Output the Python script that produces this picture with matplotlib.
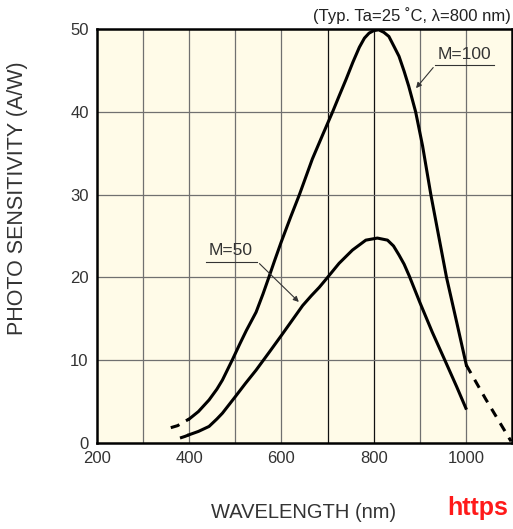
import matplotlib
matplotlib.use("Agg")
import matplotlib.pyplot as plt

plt.rcParams["font.family"] = ["Liberation Sans", "DejaVu Sans"]

# values (wavelength nm, sensitivity A/W)
m100_wl = [400, 420, 443, 460, 472, 494, 510, 524, 545, 560, 572, 585, 599, 620, 639, 667, 690,
           711, 725, 740, 755, 769, 780, 790, 800, 811, 822, 833, 845, 855, 866, 876, 891, 906,
           924, 942, 958, 980, 1001]
m100_val = [2.9, 3.8, 5.2, 6.5, 7.6, 10.1, 12.0, 13.6, 15.8, 18.0, 19.9, 22.0, 24.2, 27.3, 30.0,
            34.3, 37.3, 40.0, 41.9, 43.9, 46.0, 47.8, 48.9, 49.5, 49.8, 49.9, 49.6, 49.1, 47.8,
            46.7, 44.9, 43.1, 40.0, 35.9, 30.0, 24.7, 20.0, 14.6, 9.4]
m100_lo_wl = [360, 375, 390, 400]
m100_lo_val = [1.85, 2.1, 2.6, 2.9]
m100_hi_wl = [1001, 1043, 1098]
m100_hi_val = [9.4, 5.3, 0.2]

m50_wl = [400, 420, 443, 460, 472, 486, 500, 522, 545, 574, 600, 623, 646, 665, 682, 700, 725,
          754, 783, 808, 830, 843, 855, 866, 877, 900, 927, 956, 980, 1000]
m50_val = [1.0, 1.4, 2.0, 2.9, 3.6, 4.6, 5.6, 7.2, 8.8, 11.0, 13.0, 14.8, 16.6, 17.8, 18.8, 20.0,
           21.7, 23.3, 24.5, 24.75, 24.5, 23.8, 22.7, 21.6, 20.2, 17.0, 13.4, 9.8, 6.8, 4.2]
m50_lo_wl = [380, 391, 400]
m50_lo_val = [0.6, 0.8, 1.0]

x_ticks = [200, 400, 600, 800, 1000]
y_ticks = [0, 10, 20, 30, 40, 50]

W, H = 513, 529
fig = plt.figure(figsize=(W / 100, H / 100), dpi=100)
ax = fig.add_axes([97 / W, 1 - 443 / H, 415 / W, 414 / H])
ax.set_facecolor("#fffbe8")

ax.set_xlim(200, 1100)
ax.set_ylim(0, 50)

# grid
for x in range(300, 1100, 100):
    col = "#111111" if x in (700, 800) else "#707070"
    ax.axvline(x, color=col, lw=0.9, zorder=1)
for y in range(10, 50, 10):
    ax.axhline(y, color="#707070", lw=0.9, zorder=1)

lw = 2.2
dash = (0, (3, 2.5))
ax.plot(m100_wl, m100_val, color="black", lw=lw, zorder=3, solid_joinstyle="round")
ax.plot(m100_lo_wl, m100_lo_val, color="black", lw=lw, ls=dash, zorder=3)
ax.plot(m100_hi_wl, m100_hi_val, color="black", lw=lw, ls=dash, zorder=3)
ax.plot(m50_wl, m50_val, color="black", lw=lw, zorder=3, solid_joinstyle="round")
ax.plot(m50_lo_wl, m50_lo_val, color="black", lw=lw, ls=dash, zorder=3)

# labels with leader lines
ax.plot([933, 1062], [45.6, 45.6], color="#333333", lw=0.8, zorder=4)
ax.annotate("", xy=(888, 42.6), xytext=(933, 45.6),
            arrowprops=dict(arrowstyle="-|>", color="#333333", lw=0.8, mutation_scale=8))
ax.text(997, 46.0, "M=100", fontsize=12.5, color="#333333", ha="center", va="bottom")

ax.plot([436, 548], [21.9, 21.9], color="#333333", lw=0.8, zorder=4)
ax.annotate("", xy=(642, 16.8), xytext=(548, 21.9),
            arrowprops=dict(arrowstyle="-|>", color="#333333", lw=0.8, mutation_scale=8))
ax.text(490, 22.4, "M=50", fontsize=12.5, color="#333333", ha="center", va="bottom")

ax.set_xticks(x_ticks)
ax.set_yticks(y_ticks)
ax.tick_params(length=0, labelsize=12, colors="#333333")
ax.tick_params(axis="x", pad=6)
ax.tick_params(axis="y", pad=6)
for s in ax.spines.values():
    s.set_linewidth(1.8)
    s.set_color("black")
    s.set_zorder(5)

fig.text(511 / W, 1 - 16 / H, "(Typ. Ta=25 \u02daC, \u03bb=800 nm)", fontsize=12,
         color="#222222", ha="right", va="center")
fig.text(18 / W, 1 - 198 / H, "PHOTO SENSITIVITY (A/W)", fontsize=15.5, color="#333333",
         rotation=90, ha="center", va="center")
fig.text(304 / W, 1 - 512 / H, "WAVELENGTH (nm)", fontsize=14.5, color="#333333",
         ha="center", va="center")
fig.text(447 / W, 1 - 508 / H, "https", fontsize=18, fontweight="bold", color="#ff1a1a",
         ha="left", va="center")

fig.savefig("out.png", dpi=100)
